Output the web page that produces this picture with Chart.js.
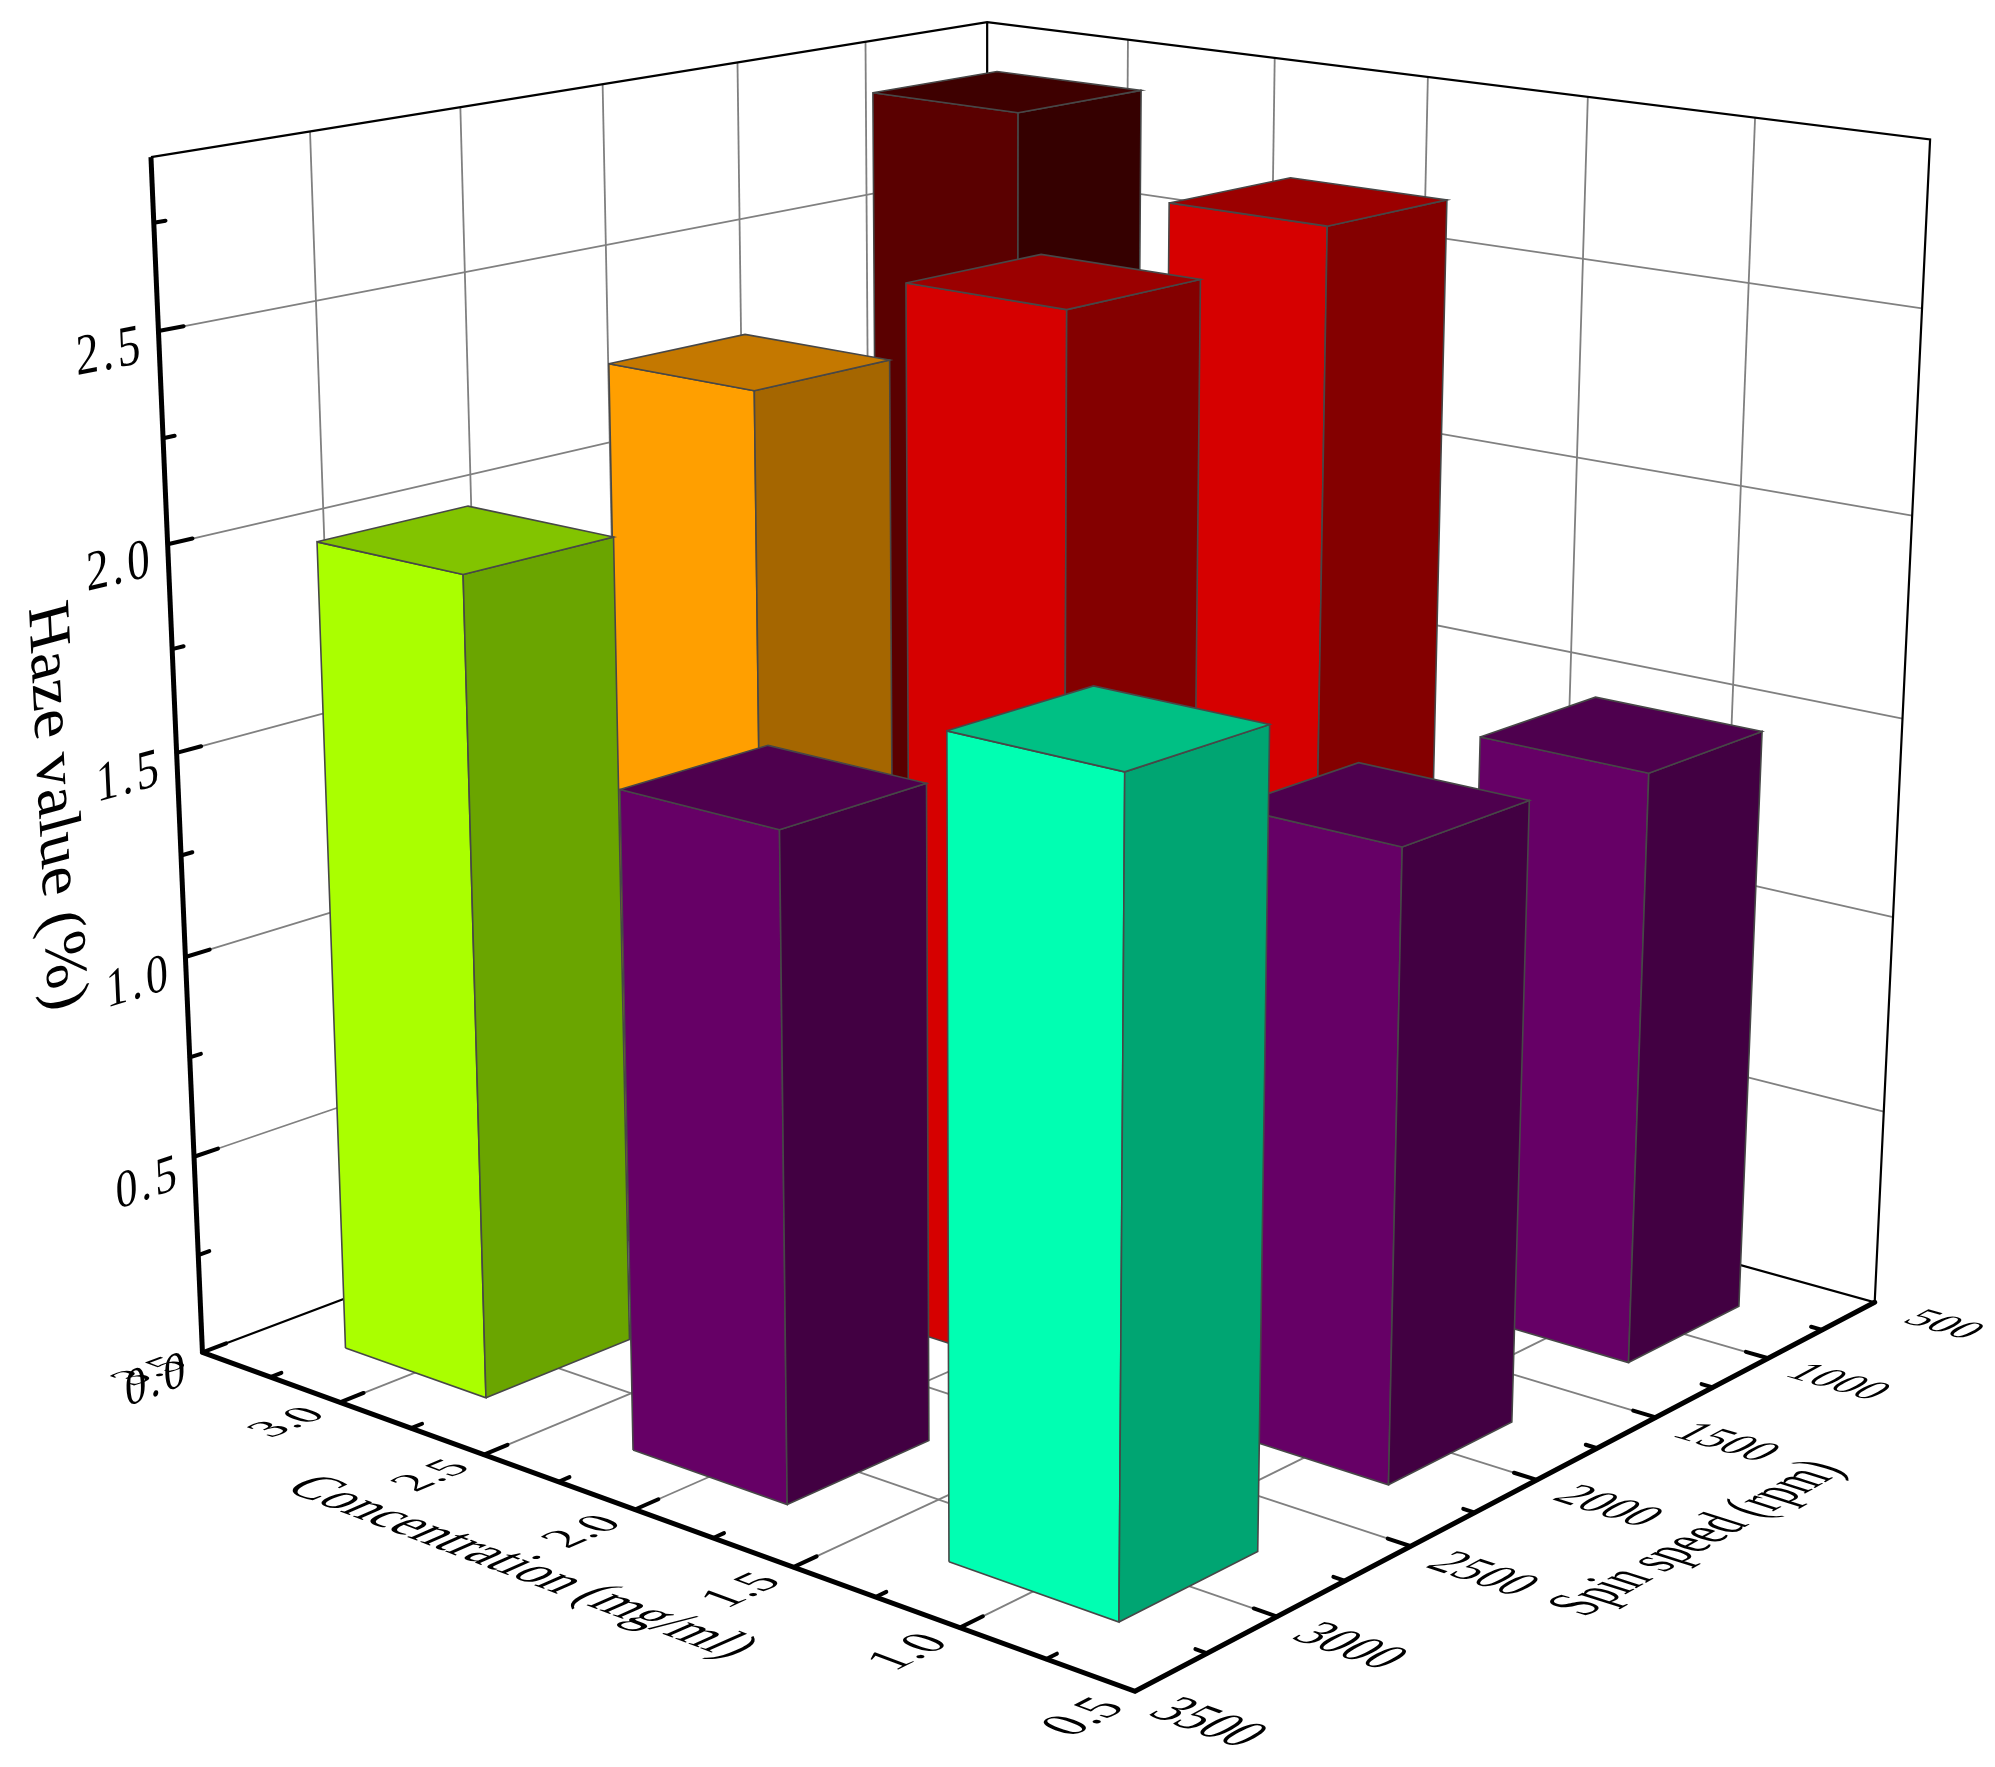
<!DOCTYPE html>
<html>
<head>
<meta charset="utf-8">
<title>Haze value</title>
<script src="https://cdn.jsdelivr.net/npm/chart.js@4"></script>
<style>
html, body { margin: 0; background: #fff; }
canvas { display: block; }
</style>
</head>
<body>
<canvas id="myChart" width="1995" height="1767"></canvas>
<script>
// data
const concentrations = [1, 2, 3];
const spinSpeeds = [1000, 2000, 3000];
const hazeAt1000 = [1.475, 2.65, 2.82];
const hazeAt2000 = [1.515, 2.59, 2.27];
const hazeAt3000 = [1.895, 1.585, 2.0];
const concTicks = [0.5, 1.0, 1.5, 2.0, 2.5, 3.0, 3.5];
const spinTicks = [500, 1000, 1500, 2000, 2500, 3000, 3500];
const hazeTicks = [0.0, 0.5, 1.0, 1.5, 2.0, 2.5];
const hazeMax = 2.9;

// colours by [conc index][spin index]: front, side, top
const barColors = {
    purple: ['#660066', '#420042', '#4e004e'],
    teal: ['#00ffb2', '#00a572', '#00c084'],
    lime: ['#aaff00', '#6aa500', '#82c400'],
    orange: ['#ff9f00', '#a56600', '#c47800'],
    red: ['#d60000', '#840000', '#9b0000'],
    maroon: ['#5a0000', '#350000', '#3e0000']
};
const colorAt1000 = ['purple', 'red', 'maroon'];
const colorAt2000 = ['purple', 'red', 'orange'];
const colorAt3000 = ['teal', 'purple', 'lime'];

// cube coords: x 0 at conc 0.5 .. 1 at conc 3.5, y 0 at spin 3500 .. 1 at spin 500, z 0..1
const cx = c => (c - 0.5) / 3;
const cy = s => (3500 - s) / 3000;
const cz = h => h / hazeMax;

// camera fit from the cube corners and some ticks
const fitPoints = [
    [1, 0, 0, 201.5, 1353], [0, 0, 0, 1134, 1694], [0, 1, 0, 1875.7, 1303],
    [1, 0, 1, 151, 157.5], [1, 1, 1, 986.5, 22], [0, 1, 1, 1931, 139.5],
    [1, 0, 2.5 / 2.9, 159, 330.5], [1, 0, 1.5 / 2.9, 176.7, 750.5], [0, 1, 2.5 / 2.9, 1922.7, 308.3],
    [0.5, 0, 0, 636, 1511], [5 / 6, 0, 0, 341.5, 1402.5], [2 / 3, 0, 0, 484.4, 1455],
    [0, 0.5, 0, 1536, 1479], [0, 5 / 6, 0, 1767.8, 1357], [0, 1 / 6, 0, 1276, 1614],
    [0.5, 1, 1, 1427.3, 78.3], [1, 0.5, 1, 602, 84.4]
];

function solveCamera(pts) {
    const n = 11;
    const M = [];
    for (let i = 0; i < n; i++) M.push(new Array(n + 1).fill(0));
    function addRow(r, b) {
        for (let i = 0; i < n; i++) {
            for (let j = 0; j < n; j++) M[i][j] += r[i] * r[j];
            M[i][n] += r[i] * b;
        }
    }
    pts.forEach(([X, Y, Z, u, v]) => {
        addRow([X, Y, Z, 1, 0, 0, 0, 0, -u * X, -u * Y, -u * Z], u);
        addRow([0, 0, 0, 0, X, Y, Z, 1, -v * X, -v * Y, -v * Z], v);
    });
    for (let i = 0; i < n; i++) {
        let best = i;
        for (let k = i + 1; k < n; k++) if (Math.abs(M[k][i]) > Math.abs(M[best][i])) best = k;
        [M[i], M[best]] = [M[best], M[i]];
        for (let k = 0; k < n; k++) {
            if (k === i) continue;
            const f = M[k][i] / M[i][i];
            for (let j = i; j <= n; j++) M[k][j] -= f * M[i][j];
        }
    }
    return M.map((row, i) => row[n] / row[i]);
}
const cam = solveCamera(fitPoints);

function project(x, y, z) {
    const w = cam[8] * x + cam[9] * y + cam[10] * z + 1;
    return {
        x: (cam[0] * x + cam[1] * y + cam[2] * z + cam[3]) / w,
        y: (cam[4] * x + cam[5] * y + cam[6] * z + cam[7]) / w
    };
}

const paint = [];
function addLine(pts, color, width, cap) {
    paint.push({
        data: pts.map(p => project(p[0], p[1], p[2])),
        borderColor: color, borderWidth: width, borderCapStyle: cap || 'butt',
        pointRadius: 0, fill: false, tension: 0
    });
}
function addFace(pts, color) {
    const closed = pts.concat([pts[0]]);
    paint.push({
        data: closed.map(p => project(p[0], p[1], p[2])),
        borderColor: '#474747', borderWidth: 1.6, borderJoinStyle: 'miter',
        backgroundColor: color, fill: 'shape',
        pointRadius: 0, tension: 0
    });
}

// walls and floor
const gridColor = '#808080';
const concMajors = concTicks.slice(1, -1);
const spinMajors = spinTicks.slice(1, -1);
const hazeMajors = hazeTicks.slice(1);
concMajors.forEach(c => {
    addLine([[cx(c), 0, 0], [cx(c), 1, 0]], gridColor, 1.8);
    addLine([[cx(c), 1, 0], [cx(c), 1, 1]], gridColor, 1.8);
});
spinMajors.forEach(s => {
    addLine([[0, cy(s), 0], [1, cy(s), 0]], gridColor, 1.8);
    addLine([[1, cy(s), 0], [1, cy(s), 1]], gridColor, 1.8);
});
hazeMajors.forEach(h => {
    addLine([[1, 0, cz(h)], [1, 1, cz(h)], [0, 1, cz(h)]], gridColor, 1.8);
});
addLine([[1, 0, 1], [1, 1, 1], [0, 1, 1], [0, 1, 0], [1, 1, 0], [1, 0, 0]], '#000', 2.2);
addLine([[1, 1, 0], [1, 1, 1]], '#000', 2.2);

// axes with ticks
addLine([[1, 0, 0], [0, 0, 0], [0, 1, 0]], '#000', 5, 'round');
addLine([[1, 0, 0], [1, 0, 1]], '#000', 5);
concTicks.forEach((c, i) => {
    if (i > 0 && i < concTicks.length - 1) addLine([[cx(c), 0, 0], [cx(c), 0.026, 0]], '#000', 4, 'round');
    if (i < concTicks.length - 1) addLine([[cx(c + 0.25), 0, 0], [cx(c + 0.25), 0.012, 0]], '#000', 4, 'round');
});
spinTicks.forEach((s, i) => {
    if (i > 0 && i < spinTicks.length - 1) addLine([[0, cy(s), 0], [0.022, cy(s), 0]], '#000', 4, 'round');
    if (i < spinTicks.length - 1) addLine([[0, cy(s + 250), 0], [0.011, cy(s + 250), 0]], '#000', 4, 'round');
});
hazeTicks.forEach(h => {
    addLine([[1, 0, cz(h)], [1, 0.026, cz(h)]], '#000', 4, 'round');
    addLine([[1, 0, cz(h + 0.25)], [1, 0.012, cz(h + 0.25)]], '#000', 4, 'round');
});

// bars, far ones first
const halfConc = 0.25, halfSpin = 250;
const bars = [];
[hazeAt1000, hazeAt2000, hazeAt3000].forEach((row, si) => {
    const names = [colorAt1000, colorAt2000, colorAt3000][si];
    row.forEach((h, ci) => bars.push({ c: concentrations[ci], s: spinSpeeds[si], h: h, col: barColors[names[ci]] }));
});
bars.sort((a, b) => (cx(b.c) + cy(b.s)) - (cx(a.c) + cy(a.s)));
bars.forEach(b => {
    const x0 = cx(b.c - halfConc), x1 = cx(b.c + halfConc);
    const y0 = cy(b.s + halfSpin), y1 = cy(b.s - halfSpin);
    const z = cz(b.h);
    addFace([[x1, y0, 0], [x0, y0, 0], [x0, y0, z], [x1, y0, z]], b.col[0]);
    addFace([[x0, y0, 0], [x0, y1, 0], [x0, y1, z], [x0, y0, z]], b.col[1]);
    addFace([[x1, y0, z], [x0, y0, z], [x0, y1, z], [x1, y1, z]], b.col[2]);
});

// text lying in the floor / wall planes
const labelFont = '"Liberation Serif"';
const texts = [];
function addText(txt, at, u, v, su, sv, spacing) {
    texts.push({ txt, at, u, v, su, sv, spacing: spacing || 0 });
}
concTicks.forEach(c => addText(c.toFixed(1), [cx(c), -0.056, 0], [0, 1, 0], [1, 0, 0], 0.05, 0.049));
spinTicks.forEach(s => addText(String(s), [-0.072, cy(s) - 0.008, 0], [-1, 0, 0], [0, 1, 0], 0.042, 0.06));
hazeTicks.forEach(h => addText(h.toFixed(1), [1, -0.05, cz(h - 0.03)], [0, 1, 0], [0, 0, 1], 0.046, 0.046, 8));
addText('Concentration (mg/ml)', [0.49, -0.134, 0], [-1, 0, 0], [0, 1, 0], 0.052, 0.06);
addText('Spin speed (rpm)', [-0.16, 0.488, 0], [0, 1, 0], [1, 0, 0], 0.0525, 0.058);
addText('Haze value (%)', [1, -0.127, 0.5], [0, 0, -1], [0, 1, 0], 0.0535, 0.06);

const planeText = {
    id: 'planeText',
    afterDatasetsDraw(chart) {
        const ctx = chart.ctx, sx = chart.scales.x, sy = chart.scales.y;
        const px = (x, y, z) => {
            const p = project(x, y, z);
            return [sx.getPixelForValue(p.x), sy.getPixelForValue(p.y)];
        };
        texts.forEach(t => {
            const [a, b, c] = t.at;
            const p = px(a, b, c);
            const e = 0.001;
            const pu = px(a + t.u[0] * e, b + t.u[1] * e, c + t.u[2] * e);
            const pv = px(a + t.v[0] * e, b + t.v[1] * e, c + t.v[2] * e);
            const k = 1 / e / 100;
            ctx.save();
            ctx.setTransform((pu[0] - p[0]) * k * t.su, (pu[1] - p[1]) * k * t.su,
                -(pv[0] - p[0]) * k * t.sv, -(pv[1] - p[1]) * k * t.sv, p[0], p[1]);
            ctx.font = '100px ' + labelFont;
            ctx.letterSpacing = t.spacing + 'px';
            ctx.textAlign = 'center';
            ctx.textBaseline = 'middle';
            ctx.fillStyle = '#000';
            ctx.fillText(t.txt, 0, 0);
            ctx.restore();
        });
    }
};

new Chart(document.getElementById('myChart'), {
    type: 'line',
    data: { datasets: paint.slice().reverse() },
    options: {
        responsive: false,
        animation: false,
        devicePixelRatio: 1,
        layout: { padding: 0 },
        scales: {
            x: { type: 'linear', min: 0, max: 1995, display: false },
            y: { type: 'linear', min: 0, max: 1767, reverse: true, display: false }
        },
        plugins: { legend: { display: false }, tooltip: { enabled: false } }
    },
    plugins: [planeText]
});
</script>
</body>
</html>
